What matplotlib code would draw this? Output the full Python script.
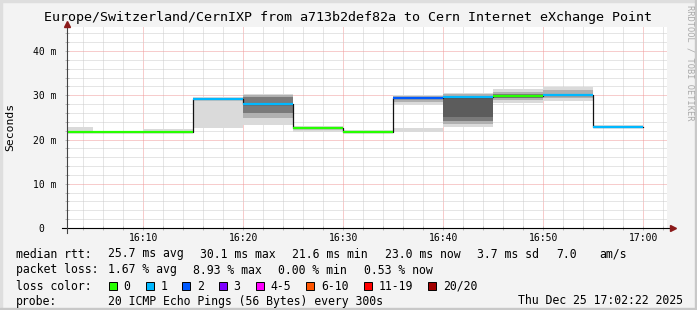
import matplotlib
matplotlib.use('Agg')
import matplotlib.pyplot as plt
from matplotlib.patches import Rectangle

##########################################
#   data: 5 minute steps, minutes after 16:00
##########################################
seg_start = [0, 5, 10, 15, 20, 25, 30, 35, 40, 45, 50, 55]
median_ms = [21.7, 21.7, 21.6, 29.2, 28.0, 22.5, 21.8, 29.5, 29.7, 29.9, 30.1, 22.9]
loss_idx = [0, 0, 0, 1, 1, 0, 0, 2, 1, 0, 1, 1]

## smoke layers (lo, hi) in ms, from outer pings (light) to inner pings (dark)
smoke_light = [(21.6, 22.8), (21.6, 21.9), (21.6, 22.4), (22.5, 29.6), (23.4, 30.4), (21.8, 23.0),
               (21.6, 22.1), (27.8, 30.1), (22.8, 30.5), (28.3, 31.4), (28.8, 31.8), (22.6, 23.2)]
smoke_low_band = [None, None, None, None, None, None, None, (21.8, 22.5), None, None, None, None]
smoke_mid = [None, None, None, None, (24.8, 30.1), None, None, (28.6, 29.9), (23.6, 30.2), (28.9, 30.8), (29.3, 31.2), None]
smoke_dark = [None, None, None, None, (26.0, 29.6), None, None, None, (24.2, 29.9), (29.3, 30.3), None, None]
smoke_darkest = [None, None, None, None, None, None, None, None, (25.2, 29.6), None, None, None]

loss_labels = ['0', '1', '2', '3', '4-5', '6-10', '11-19', '20/20']
loss_colors = ['#26ff00', '#00b8ff', '#0059ff', '#7e00ff', '#ff00ff', '#ff5500', '#ff0000', '#a10000']

x_ticks = [10, 20, 30, 40, 50, 60]
x_tick_labels = ['16:10', '16:20', '16:30', '16:40', '16:50', '17:00']
y_ticks = [0, 10, 20, 30, 40]
y_tick_labels = ['0  ', '10 m', '20 m', '30 m', '40 m']

title = 'Europe/Switzerland/CernIXP from a713b2def82a to Cern Internet eXchange Point'
rtt_fields = ['25.7 ms avg', '30.1 ms max', '21.6 ms min', '23.0 ms now', '3.7 ms sd', '7.0', 'am/s']
loss_fields = ['1.67 % avg', '8.93 % max', '0.00 % min', '0.53 % now']
probe_text = '20 ICMP Echo Pings (56 Bytes) every 300s'
stamp_text = 'Thu Dec 25 17:02:22 2025'

##########################################
#   figure
##########################################
W, H = 697, 310
MONO = 'DejaVu Sans Mono'
plt.rcParams['font.family'] = MONO


def fx(x):
    return x / W


def fy(y):
    return 1 - y / H


fig = plt.figure(figsize=(W / 100, H / 100), dpi=100, facecolor='#f3f3f3')

## shaded frame
fig.patches.append(Rectangle((0, 0), fx(2), 1, transform=fig.transFigure, color='#dedede', zorder=0))
fig.patches.append(Rectangle((0, fy(2)), 1, 2 / H, transform=fig.transFigure, color='#dedede', zorder=0))
fig.patches.append(Rectangle((fx(W - 2), 0), fx(2), 1, transform=fig.transFigure, color='#c8c8c8', zorder=0))
fig.patches.append(Rectangle((0, 0), 1, 2 / H, transform=fig.transFigure, color='#c8c8c8', zorder=0))

ax = fig.add_axes([fx(67), fy(228), fx(667) - fx(67), fy(27) - fy(228)])
ax.set_facecolor('white')
for s in ax.spines.values():
    s.set_visible(False)

## grid
ax.set_xticks(x_ticks)
ax.set_xticks(range(0, 64, 2), minor=True)
ax.set_yticks(y_ticks)
ax.set_yticks(range(0, 46, 2), minor=True)
ax.grid(which='minor', color='#cccccc', linewidth=0.72, linestyle=(0, (1, 1)), zorder=0)
ax.grid(which='major', color='#f09a9a', linewidth=0.72, linestyle=(0, (1, 1)), zorder=0)
ax.set_axisbelow(True)

ax.set_xticklabels(x_tick_labels, fontsize=7)
ax.set_yticklabels(y_tick_labels, fontsize=7)
ax.tick_params(which='both', direction='inout', length=3, width=0.6, color='#b0b0b0', pad=2)
ax.tick_params(axis='y', pad=6)

## smoke
width = 5
layers = [(smoke_light, '#dadada'), (smoke_low_band, '#dadada'), (smoke_mid, '#b0b0b0'),
          (smoke_dark, '#7a7a7a'), (smoke_darkest, '#5c5c5c')]
for layer, col in layers:
    for s, rng in zip(seg_start, layer):
        if rng is None:
            continue
        ax.bar(s, rng[1] - rng[0], bottom=rng[0], width=width, align='edge', color=col, linewidth=0, zorder=2)

## median: black connecting step, then loss coloured segments
edges = seg_start + [seg_start[-1] + width]
ax.step(edges, median_ms + [median_ms[-1]], where='post', color='#111111', linewidth=0.9, zorder=3)
ax.hlines(median_ms, seg_start, [s + width for s in seg_start],
          colors=[loss_colors[i] for i in loss_idx], linewidth=1.6, zorder=4)

## limits last (set_ticks widens the view)
ax.set_xlim(2 + 22 / 60, 62 + 22 / 60)
ax.set_ylim(0, 45.45)

## axes lines with arrows
ax.plot([-5 / 600, 1 + 5 / 600], [0, 0], transform=ax.transAxes, color='black', lw=0.8, clip_on=False, zorder=5)
ax.plot([0, 0], [-5 / 201, 1 + 3 / 201], transform=ax.transAxes, color='#444444', lw=0.8, clip_on=False, zorder=5)
ax.plot(1 + 6 / 600, 0, marker='>', ms=4.5, color='#8b1a1a', transform=ax.transAxes, clip_on=False, zorder=6)
ax.plot(0, 1 + 3 / 201, marker='^', ms=4.5, color='#8b1a1a', transform=ax.transAxes, clip_on=False, zorder=6)

## texts
fig.text(fx(348), fy(18), title, ha='center', va='center', fontsize=9.6)
fig.text(fx(10), fy(127), 'Seconds', rotation=90, ha='center', va='center', fontsize=8.2)
fig.text(fx(690), fy(5), 'RRDTOOL / TOBI OETIKER', rotation=270, ha='center', va='top',
         fontsize=6.2, color='#aaaaaa')

CW = 6.95  # px per monospace char
FS = 8.3
row_y = [254, 270, 286, 301]

fig.text(fx(16), fy(row_y[0]), 'median rtt:', va='center', fontsize=FS)
cx = 107.5
for i, f in enumerate(rtt_fields):
    fig.text(fx(cx), fy(row_y[0]), f, va='center', fontsize=FS)
    cx += len(f) * CW + (16 if i < 5 else 23)

fig.text(fx(16), fy(row_y[1]), 'packet loss:', va='center', fontsize=FS)
cx = 107.5
for f in loss_fields:
    fig.text(fx(cx), fy(row_y[1]), f, va='center', fontsize=FS)
    cx += len(f) * CW + 16

fig.text(fx(16), fy(row_y[2]), 'loss color:', va='center', fontsize=FS)
cx = 109
for lab, col in zip(loss_labels, loss_colors):
    fig.patches.append(Rectangle((fx(cx), fy(row_y[2] + 4)), 8 / W, 8 / H, transform=fig.transFigure,
                                 facecolor=col, edgecolor='black', linewidth=0.7, zorder=3))
    fig.text(fx(cx + 14.7), fy(row_y[2]), lab, va='center', fontsize=FS)
    cx += 14.7 + len(lab) * CW + 15

fig.text(fx(16), fy(row_y[3]), 'probe:', va='center', fontsize=FS)
fig.text(fx(107.5), fy(row_y[3]), probe_text, va='center', fontsize=FS)
fig.text(fx(683), fy(row_y[3]), stamp_text, va='center', ha='right', fontsize=FS)

plt.savefig('out.png', dpi=100, facecolor=fig.get_facecolor())
